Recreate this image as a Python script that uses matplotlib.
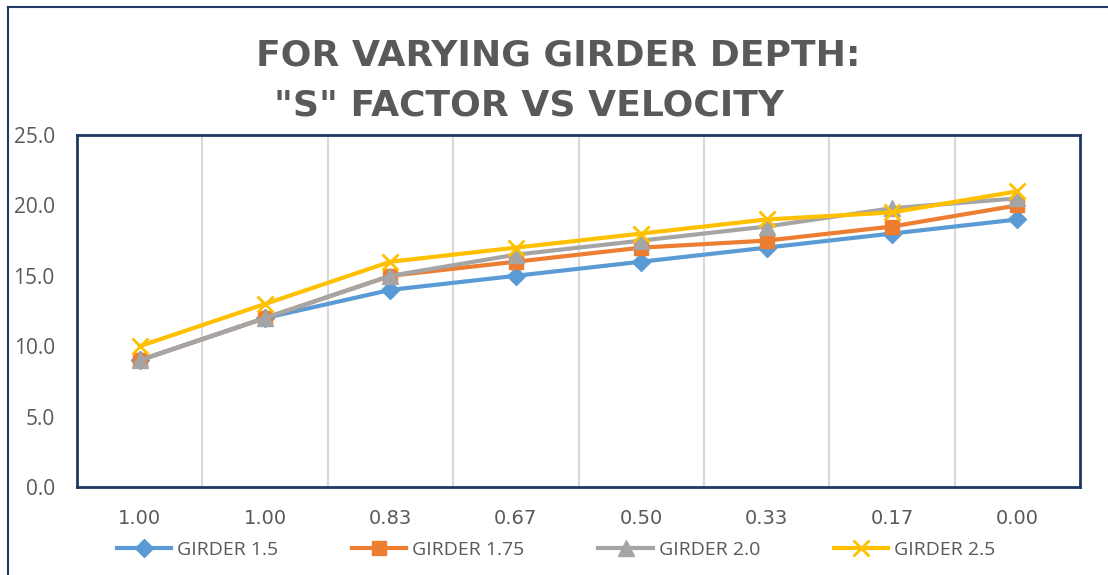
import matplotlib.pyplot as plt
from matplotlib.lines import Line2D

# Datos
velocidad = ["1.00", "1.00", "0.83", "0.67", "0.50", "0.33", "0.17", "0.00"]
girder_15 = [9, 12, 14, 15, 16, 17, 18, 19]
girder_175 = [9, 12, 15, 16, 17, 17.5, 18.5, 20]
girder_20 = [9, 12, 15, 16.5, 17.5, 18.5, 19.8, 20.5]
girder_25 = [10, 13, 16, 17, 18, 19, 19.5, 21]

navy = "#1F3864"
gris_texto = "#595959"
plt.rcParams['font.family'] = ['Open Sans', 'DejaVu Sans']

fig = plt.figure(figsize=(11.08, 5.75), dpi=100)
ax = fig.add_axes([77 / 1108, 1 - 487 / 575, (1080 - 77) / 1108, (487 - 135) / 575])

x = list(range(len(velocidad)))

# Lineas verticales entre categorias
for i in range(len(velocidad) - 1):
    ax.axvline(i + 0.5, color="#D9D9D9", lw=1.5, zorder=0)

ax.plot(x, girder_15, color="#5B9BD5", lw=3, marker="D", ms=9, label="GIRDER 1.5")
ax.plot(x, girder_175, color="#ED7D31", lw=3, marker="s", ms=10, label="GIRDER 1.75")
ax.plot(x, girder_20, color="#A5A5A5", lw=3, marker="^", ms=11, label="GIRDER 2.0")
ax.plot(x, girder_25, color="#FFC000", lw=3, marker="x", ms=11, mew=2, label="GIRDER 2.5")

ax.set_xlim(-0.5, len(velocidad) - 0.5)
ax.set_ylim(0, 25)
ax.set_yticks([0, 5, 10, 15, 20, 25])
ax.set_yticklabels(["0.0", "5.0", "10.0", "15.0", "20.0", "25.0"])
ax.set_xticks(x)
ax.set_xticklabels(velocidad, family="DejaVu Sans")
ax.tick_params(axis="y", length=0, labelsize=15, labelcolor=gris_texto, pad=16)
ax.tick_params(axis="x", length=0, labelsize=14, labelcolor=gris_texto, pad=16)
for s in ax.spines.values():
    s.set_color(navy)
    s.set_linewidth(2)

fig.text(558 / 1108, 1 - 55 / 575, "FOR VARYING GIRDER DEPTH:", ha="center", va="center",
         fontsize=26, fontweight="bold", color=gris_texto, family="DejaVu Sans")
fig.text(529 / 1108, 1 - 106 / 575, '"S" FACTOR VS VELOCITY', ha="center", va="center",
         fontsize=26, fontweight="bold", color=gris_texto, family="DejaVu Sans")

fig.legend(loc="center", bbox_to_anchor=(556 / 1108, 1 - 550 / 575), ncol=4, frameon=False,
           fontsize=14, labelcolor=gris_texto, handlelength=2.8, handletextpad=0.3,
           columnspacing=3.8)

# Borde exterior (solo arriba e izquierda visibles)
fig.add_artist(Line2D([8 / 1108, 8 / 1108], [0, 1 - 7 / 575], transform=fig.transFigure, color=navy, lw=1.5))
fig.add_artist(Line2D([8 / 1108, 1], [1 - 7 / 575, 1 - 7 / 575], transform=fig.transFigure, color=navy, lw=1.5))

fig.savefig("out.png", dpi=100)
